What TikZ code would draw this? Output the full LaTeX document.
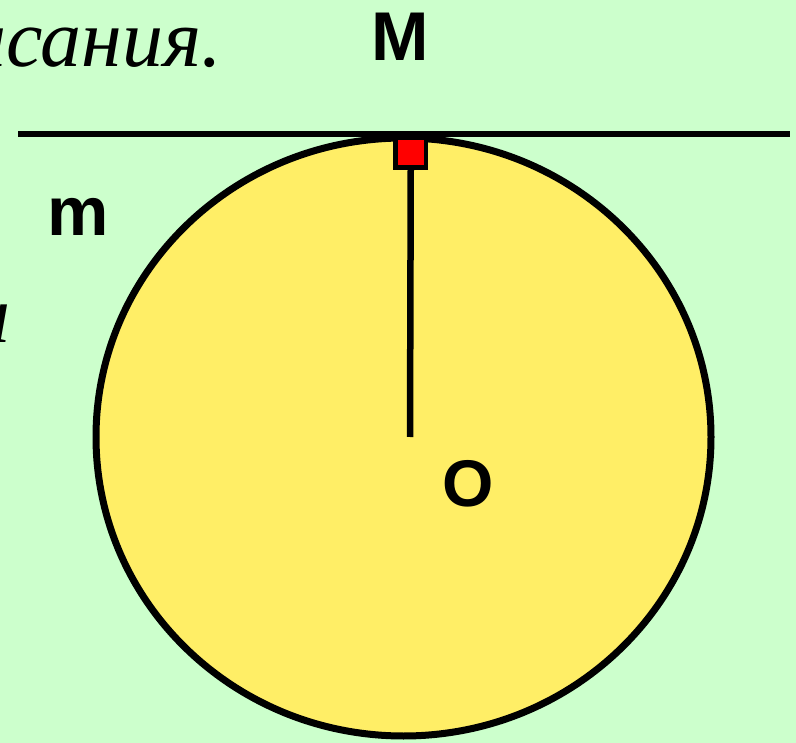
\documentclass[tikz,border=0pt]{standalone}
\usepackage{fontspec}
\setmainfont{Liberation Serif}
\newfontfamily\labelfont{Liberation Sans}
\usetikzlibrary{positioning}
\definecolor{bggreen}{HTML}{CCFFCC}
\definecolor{discyellow}{HTML}{FFEE66}
\begin{document}
\begin{tikzpicture}[x=1pt,y=-1pt,
  lbl/.style={inner sep=0pt,font=\labelfont\bfseries\fontsize{69}{80}\selectfont},
  rus/.style={inner sep=0pt,anchor=base east,font=\itshape\fontsize{82}{96}\selectfont}]
\fill[bggreen] (0,0) rectangle (796,743);
\useasboundingbox (0,0) rectangle (796,743);
% text cut off at the left edge
\node[rus] (word) at (222,67) {исания.};
\node[rus] (letter) at (11,343) {и};
% circle and tangent
\draw[line width=7pt,fill=discyellow] (403.5,437) ellipse [x radius=307.5pt,y radius=299pt];
\coordinate (left) at (18,134.5);
\coordinate (right) at (790,134.5);
\draw[line width=6pt] (left) -- (right);
\node[draw,line width=4.3pt,fill=red,inner sep=0pt,minimum width=30.5pt,minimum height=30pt,anchor=north] (sq) at (410.75,135.5) {};
\coordinate (O) at (410,437);
\draw[line width=6.5pt] (sq.south) -- (O);
% labels
\node[lbl] (M) at (400,37) {M};
\node[lbl] (m) at (78,217) {m};
\node[lbl,font=\labelfont\bfseries\fontsize{66}{78}\selectfont] (Olbl) at (468,484) {O};
\end{tikzpicture}
\end{document}
